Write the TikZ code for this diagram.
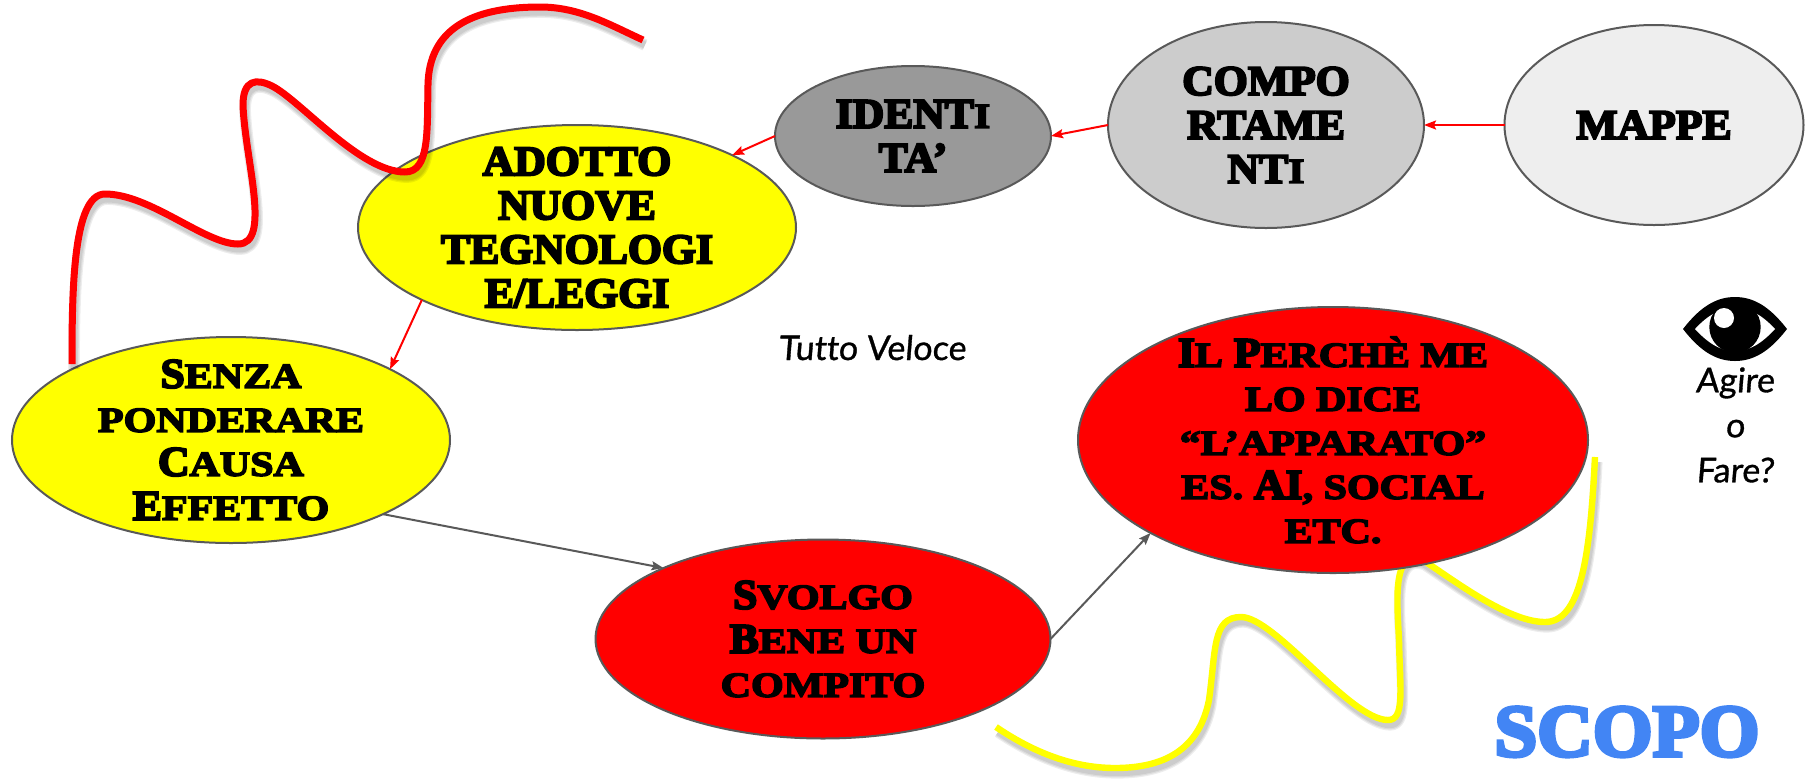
\documentclass[tikz,border=0pt]{standalone}
\usepackage{fontspec}
\usetikzlibrary{arrows.meta,shapes.geometric}
\newfontfamily\dispfont[FakeBold=5,FakeStretch=1.04]{Liberation Serif Bold}
\newfontfamily\dispsmall[FakeBold=4.5,FakeStretch=1.2]{Liberation Serif Bold}
\newfontfamily\handfont[FakeBold=1,FakeSlant=0.08,Ligatures=NoCommon]{Lato}
\newcommand{\dsm}[1]{{\dispsmall\fontsize{17.5pt}{22pt}\selectfont\MakeUppercase{#1}}}
\definecolor{edgegray}{HTML}{595959}
\definecolor{scopoblue}{HTML}{4285F4}
\definecolor{pureyellow}{RGB}{255,255,0}
\definecolor{purered}{RGB}{255,0,0}
\definecolor{grayA}{HTML}{999999}
\definecolor{grayB}{HTML}{CCCCCC}
\definecolor{grayC}{HTML}{EEEEEE}
\tikzset{
  bub/.style={ellipse,draw=edgegray,line width=1pt,inner sep=0pt,outer sep=0pt},
  bubtext/.style={align=center,inner sep=0pt,font=\dispfont\fontsize{21pt}{22pt}\selectfont,text=black},
  redlink/.style={draw=purered,line width=1pt,-{Stealth[length=6pt,width=4.5pt,inset=1pt]}},
  graylink/.style={draw=edgegray,line width=1pt,-{Stealth[length=6pt,width=4.5pt,inset=1pt]}},
  hand/.style={font=\handfont\fontsize{17pt}{22.5pt}\selectfont,align=center,text=black,inner sep=0pt},
  squig/.style={line cap=butt,line join=round},
  soft/.style={draw=black,opacity=0.07,line cap=butt,line join=round}
}
\newcommand{\softcurve}[3]{%
  \foreach \w in {0,1.2,2.4}{%
    \draw[soft,line width=#3pt+\w pt,shift={(2,5)}] #1;}%
  \draw[squig,draw=#2,line width=#3pt] #1;}
\begin{document}
\begin{tikzpicture}[x=0.5pt,y=-0.5pt]
\useasboundingbox (0,0) rectangle (1816,778);
\softcurve{(996,727) .. controls (1030,750) and (1070,768) .. (1115,768) .. controls (1170,768) and (1200,745) .. (1209,700) .. controls (1216,650) and (1212,617) .. (1241,617) .. controls (1275,617) and (1350,720) .. (1388,720) .. controls (1405,720) and (1400,690) .. (1399,640) .. controls (1397,600) and (1392,548) .. (1423,560) .. controls (1460,585) and (1510,622) .. (1545,622) .. controls (1580,622) and (1590,560) .. (1595,457)}{pureyellow}{3.2}
\node[bub,fill=pureyellow,minimum width=219pt,minimum height=102.5pt] (adotto) at (577,227.5) {};
\node[bub,fill=pureyellow,minimum width=219pt,minimum height=103pt] (senza) at (231,440) {};
\node[bub,fill=purered,minimum width=227.5pt,minimum height=99.5pt] (svolgo) at (823,639) {};
\node[bub,fill=purered,minimum width=255pt,minimum height=133pt] (perche) at (1333,440) {};
\node[bub,fill=grayA,minimum width=138pt,minimum height=70pt] (identi) at (913,136) {};
\node[bub,fill=grayB,minimum width=158pt,minimum height=103pt] (compo) at (1266,125) {};
\node[bub,fill=grayC,minimum width=149.5pt,minimum height=100pt] (mappe) at (1654,125) {};
\node[bubtext] (adottotext) at (adotto) {ADOTTO\\NUOVE\\TEGNOLOGI\\E/LEGGI};
\node[bubtext] (senzatext) at (senza) {S\dsm{enza}\\\dsm{ponderare}\\C\dsm{ausa}\\E\dsm{ffetto}};
\node[bubtext] (svolgotext) at (svolgo) {S\dsm{volgo}\\B\dsm{ene un}\\\dsm{compito}};
\node[bubtext] (perchetext) at (perche) {I\dsm{l} P\dsm{erchè me}\\\dsm{lo dice}\\\dsm{“l’apparato”}\\\dsm{es.} AI\dsm{, social}\\\dsm{etc.}};
\node[bubtext] (identitext) at (identi) {IDENT\dsm{i}\\TA’};
\node[bubtext] (compotext) at (compo) {COMPO\\RTAME\\NT\dsm{i}};
\node[bubtext] (mappetext) at (mappe) {MAPPE};
\draw[redlink] (mappe.west) -- (compo.east);
\draw[redlink] (compo.west) -- (identi.east);
\draw[redlink] (identi.west) -- (adotto.25.5);
\draw[redlink] (adotto.205.2) -- (senza.24.9);
\draw[graylink] (senza.-26) -- (svolgo.156.2);
\draw[graylink] (svolgo.east) -- (perche.207.7);
\softcurve{(72,364) .. controls (72,290) and (73,194) .. (105,194) .. controls (150,194) and (205,244) .. (238,244) .. controls (272,244) and (245,160) .. (243,105) .. controls (243,80) and (256,78) .. (272,86) .. controls (300,100) and (360,172) .. (405,172) .. controls (430,172) and (427,130) .. (428,85) .. controls (429,30) and (470,7) .. (540,7) .. controls (580,7) and (610,25) .. (643,40)}{purered}{3.5}
\node[hand,anchor=base] (tutto) at (872,360) {Tutto Veloce};
\node[hand] (agire) at (1735,425) {Agire\\o\\Fare?};
\node[font=\dispfont\fontsize{37pt}{37pt}\selectfont,text=scopoblue,inner sep=0pt,anchor=base] (scopo) at (1627,756) {SCOPO};
% eye icon
\fill[black] (1683,329) .. controls (1700,307) and (1716,297) .. (1735,297) .. controls (1754,297) and (1770,307) .. (1787,329) .. controls (1770,351) and (1754,361) .. (1735,361) .. controls (1716,361) and (1700,351) .. (1683,329) -- cycle;
\fill[white] (1695,329) .. controls (1708,315) and (1720,308) .. (1735,308) .. controls (1750,308) and (1762,315) .. (1775,329) .. controls (1762,343) and (1750,351) .. (1735,351) .. controls (1720,351) and (1708,343) .. (1695,329) -- cycle;
\fill[black] (1735,327) circle[radius=25.7];
\fill[white] (1724,318) circle[radius=10];
\end{tikzpicture}
\end{document}
